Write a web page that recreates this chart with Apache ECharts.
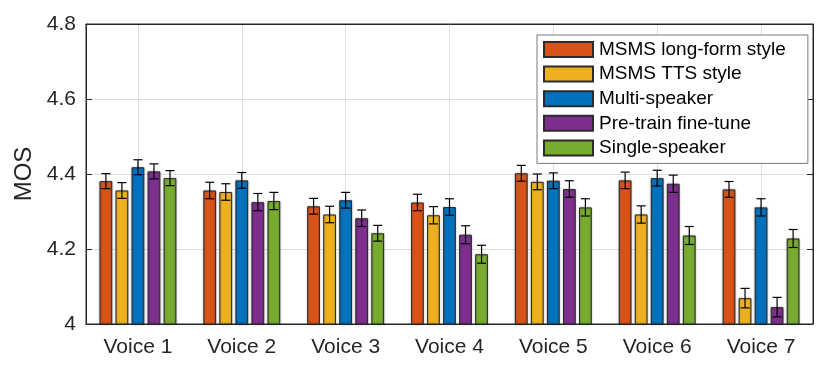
<!doctype html>
<html>
<head>
<meta charset="utf-8">
<title>MOS per voice</title>
<script src="https://cdn.jsdelivr.net/npm/echarts@6/dist/echarts.min.js"></script>
<style>
  html, body { margin: 0; padding: 0; background: #fff; }
  #chart { width: 830px; height: 373px; }
</style>
</head>
<body>
<div id="chart"></div>
<script>
  // categories and series
  var voices = ['Voice 1', 'Voice 2', 'Voice 3', 'Voice 4', 'Voice 5', 'Voice 6', 'Voice 7'];
  var seriesNames = ['MSMS long-form style', 'MSMS TTS style', 'Multi-speaker', 'Pre-train fine-tune', 'Single-speaker'];
  var colors = ['#D95319', '#EDB120', '#0072BD', '#7E2F8E', '#77AC30'];

  // MOS means per system (one value per voice)
  var longForm   = [4.381, 4.356, 4.314, 4.324, 4.402, 4.383, 4.359];
  var ttsStyle   = [4.356, 4.352, 4.292, 4.290, 4.379, 4.292, 4.069];
  var multiSpk   = [4.418, 4.383, 4.330, 4.312, 4.382, 4.389, 4.311];
  var pretrainFt = [4.407, 4.325, 4.282, 4.238, 4.360, 4.374, 4.045];
  var singleSpk  = [4.389, 4.328, 4.242, 4.186, 4.311, 4.236, 4.228];

  // half-width of the error bars
  var longFormErr   = [0.020, 0.022, 0.021, 0.022, 0.021, 0.022, 0.021];
  var ttsStyleErr   = [0.021, 0.022, 0.022, 0.023, 0.021, 0.023, 0.026];
  var multiSpkErr   = [0.020, 0.021, 0.021, 0.022, 0.021, 0.021, 0.023];
  var pretrainFtErr = [0.020, 0.023, 0.022, 0.024, 0.022, 0.023, 0.026];
  var singleSpkErr  = [0.020, 0.023, 0.021, 0.024, 0.023, 0.024, 0.024];

  var yTicks = [4, 4.2, 4.4, 4.6, 4.8];

  var means = [longForm, ttsStyle, multiSpk, pretrainFt, singleSpk];
  var errs = [longFormErr, ttsStyleErr, multiSpkErr, pretrainFtErr, singleSpkErr];

  var FONT = '"Liberation Sans", Arial, Helvetica, sans-serif';
  var TXT = '#262626';
  var GAP = 0.26;   // barGap and barCategoryGap

  function errRenderer(si) {
    return function (params, api) {
      var ci = api.value(0);
      var lo = api.coord([ci, api.value(1)]);
      var hi = api.coord([ci, api.value(2)]);
      var band = api.size([1, 0])[0];
      var bw = band * (1 - GAP) / (5 + 4 * GAP);
      var x = lo[0] + (si - 2) * bw * (1 + GAP);
      var cap = 4.5;
      var st = { stroke: '#000', lineWidth: 1.2 };
      return {
        type: 'group',
        children: [
          { type: 'line', shape: { x1: x, y1: lo[1], x2: x, y2: hi[1] }, style: st },
          { type: 'line', shape: { x1: x - cap, y1: lo[1], x2: x + cap, y2: lo[1] }, style: st },
          { type: 'line', shape: { x1: x - cap, y1: hi[1], x2: x + cap, y2: hi[1] }, style: st }
        ]
      };
    };
  }

  var series = [];
  seriesNames.forEach(function (name, si) {
    series.push({
      name: name,
      type: 'bar',
      xAxisIndex: 0,
      yAxisIndex: 0,
      data: means[si],
      barGap: '26%',
      barCategoryGap: '26%',
      itemStyle: {
        color: colors[si],
        borderColor: '#2b2b2b',
        borderWidth: 1,
        shadowColor: 'rgba(0,0,0,0.35)',
        shadowBlur: 2
      },
      emphasis: { disabled: true },
      z: 2
    });
  });
  seriesNames.forEach(function (name, si) {
    series.push({
      name: name + ' err',
      type: 'custom',
      xAxisIndex: 0,
      yAxisIndex: 0,
      renderItem: errRenderer(si),
      data: voices.map(function (v, ci) {
        return [ci, means[si][ci] - errs[si][ci], means[si][ci] + errs[si][ci]];
      }),
      z: 5,
      silent: true
    });
  });

  var chart = echarts.init(document.getElementById('chart'), null, { renderer: 'canvas' });
  chart.setOption({
    animation: false,
    textStyle: { fontFamily: FONT },
    grid: { left: 86, right: 17, top: 24, bottom: 49, show: true, borderColor: TXT, borderWidth: 1 },
    legend: {
      data: seriesNames,
      orient: 'vertical',
      left: 537,
      top: 35,
      itemWidth: 49,
      itemHeight: 15,
      itemGap: 5.6,
      padding: [5, 22, 6, 6],
      backgroundColor: '#fff',
      borderColor: '#7a7a7a',
      borderWidth: 1,
      icon: 'rect',
      selectedMode: false,
      textStyle: { fontFamily: FONT, fontSize: 19, color: '#000', padding: [0, 0, 0, 1] }
    },
    xAxis: [{
      type: 'category',
      data: voices,
      position: 'bottom',
      axisLine: { lineStyle: { color: TXT, width: 1 } },
      axisTick: { inside: true, alignWithLabel: true, length: 5, lineStyle: { color: TXT } },
      axisLabel: { fontSize: 21, color: TXT, margin: 13, fontFamily: FONT },
      splitLine: { show: true, alignWithLabel: true, lineStyle: { color: '#dfdfdf', width: 1 } }
    }, {
      type: 'category',
      data: voices,
      position: 'top',
      axisLine: { lineStyle: { color: TXT, width: 1 } },
      axisTick: { inside: true, alignWithLabel: true, length: 5, lineStyle: { color: TXT } },
      axisLabel: { show: false },
      splitLine: { show: false }
    }],
    yAxis: [{
      type: 'value',
      min: yTicks[0],
      max: yTicks[yTicks.length - 1],
      interval: 0.2,
      name: 'MOS',
      nameLocation: 'middle',
      nameGap: 42,
      nameTextStyle: { fontSize: 24, color: TXT, fontFamily: FONT },
      axisLine: { show: true, lineStyle: { color: TXT, width: 1 } },
      axisTick: { show: true, inside: true, length: 6, lineStyle: { color: TXT } },
      axisLabel: { fontSize: 21, color: TXT, margin: 10, fontFamily: FONT },
      splitLine: { show: true, lineStyle: { color: '#dfdfdf', width: 1 } }
    }, {
      type: 'value',
      position: 'right',
      min: yTicks[0],
      max: yTicks[yTicks.length - 1],
      interval: 0.2,
      axisLine: { show: true, lineStyle: { color: TXT, width: 1 } },
      axisTick: { show: true, inside: true, length: 6, lineStyle: { color: TXT } },
      axisLabel: { show: false },
      splitLine: { show: false }
    }],
    series: series
  });
</script>
</body>
</html>
